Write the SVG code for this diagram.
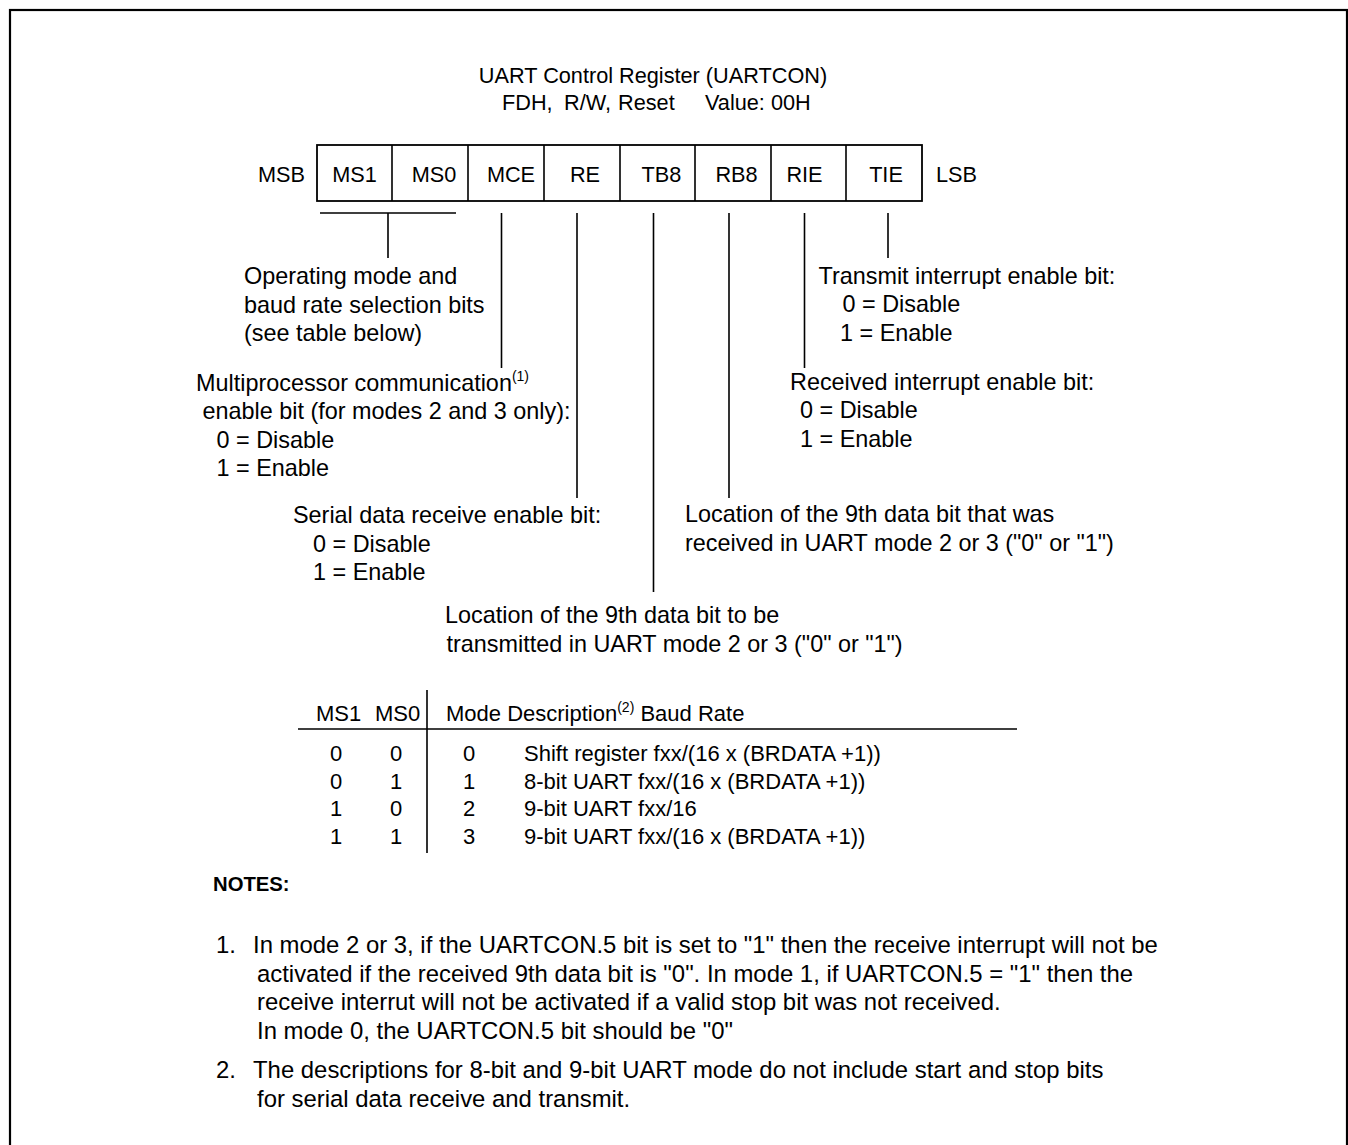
<svg xmlns="http://www.w3.org/2000/svg" width="1348" height="1145" viewBox="0 0 1348 1145">
<style>
text{font-family:"Liberation Sans",Arial,sans-serif;fill:#000}
.t{font-size:21.7px}
.tb{font-size:22px}
.d{font-size:23.4px}
.n{font-size:23.9px}
.s{font-size:14px}
.b{font-weight:bold;font-size:20.3px}
.ln{stroke:#000;stroke-width:1.6;fill:none}
</style>
<rect x="10" y="10" width="1337" height="1160" fill="#fff" stroke="#000" stroke-width="2.2"/>
<g id="title">
<text class="t" x="653" y="83" text-anchor="middle">UART Control Register (UARTCON)</text>
<text class="t" x="502" y="110">FDH,</text>
<text class="t" x="564" y="110">R/W,</text>
<text class="t" x="618" y="110">Reset</text>
<text class="t" x="705" y="110">Value: 00H</text>
</g>
<g id="register">
<rect x="317" y="145" width="605" height="56" fill="none" stroke="#000" stroke-width="1.8"/>
<path class="ln" d="M392 145V201M468 145V201M544 145V201M620 145V201M695 145V201M771 145V201M846 145V201"/>
<text class="t" x="258" y="182">MSB</text>
<text class="t" x="354.5" y="182" text-anchor="middle">MS1</text>
<text class="t" x="434" y="182" text-anchor="middle">MS0</text>
<text class="t" x="511" y="182" text-anchor="middle">MCE</text>
<text class="t" x="585" y="182" text-anchor="middle">RE</text>
<text class="t" x="661.5" y="182" text-anchor="middle">TB8</text>
<text class="t" x="736.5" y="182" text-anchor="middle">RB8</text>
<text class="t" x="804.5" y="182" text-anchor="middle">RIE</text>
<text class="t" x="886" y="182" text-anchor="middle">TIE</text>
<text class="t" x="936" y="182">LSB</text>
</g>
<g id="connectors">
<path class="ln" d="M320 213H456M388 213V258"/>
<path class="ln" d="M501.5 213V368"/>
<path class="ln" d="M577 213V498"/>
<path class="ln" d="M653.5 213V592"/>
<path class="ln" d="M729 213V498"/>
<path class="ln" d="M804.5 213V368"/>
<path class="ln" d="M888 213V258"/>
</g>
<g id="ms-desc">
<text class="d" x="244" y="284">Operating mode and</text>
<text class="d" x="244" y="312.5">baud rate selection bits</text>
<text class="d" x="244" y="341">(see table below)</text>
</g>
<g id="mce-desc">
<text class="d" x="196" y="390.5">Multiprocessor communication<tspan class="s" dy="-10">(1)</tspan></text>
<text class="d" x="202.5" y="419">enable bit (for modes 2 and 3 only):</text>
<text class="d" x="216.5" y="447.5">0 = Disable</text>
<text class="d" x="216.5" y="476">1 = Enable</text>
</g>
<g id="re-desc">
<text class="d" x="293" y="523">Serial data receive enable bit:</text>
<text class="d" x="313" y="551.5">0 = Disable</text>
<text class="d" x="313" y="580">1 = Enable</text>
</g>
<g id="tb8-desc">
<text class="d" x="445" y="623">Location of the 9th data bit to be</text>
<text class="d" x="446.5" y="651.5">transmitted in UART mode 2 or 3 ("0" or "1")</text>
</g>
<g id="rb8-desc">
<text class="d" x="685" y="522">Location of the 9th data bit that was</text>
<text class="d" x="685" y="550.5">received in UART mode 2 or 3 ("0" or "1")</text>
</g>
<g id="rie-desc">
<text class="d" x="790" y="389.5">Received interrupt enable bit:</text>
<text class="d" x="800" y="418">0 = Disable</text>
<text class="d" x="800" y="446.5">1 = Enable</text>
</g>
<g id="tie-desc">
<text class="d" x="818.5" y="283.5">Transmit interrupt enable bit:</text>
<text class="d" x="842.5" y="312">0 = Disable</text>
<text class="d" x="840" y="340.5">1 = Enable</text>
</g>
<g id="mode-table">
<path class="ln" d="M427 690V853M298 729H1017"/>
<text class="tb" x="316" y="721">MS1</text>
<text class="tb" x="375" y="721">MS0</text>
<text class="tb" x="446" y="721">Mode Description<tspan class="s" dy="-9">(2)</tspan><tspan dy="9"> Baud Rate</tspan></text>
<text class="tb" x="336" y="761" text-anchor="middle">0</text>
<text class="tb" x="396" y="761" text-anchor="middle">0</text>
<text class="tb" x="469" y="761" text-anchor="middle">0</text>
<text class="tb" x="524" y="761">Shift register fxx/(16 x (BRDATA +1))</text>
<text class="tb" x="336" y="788.5" text-anchor="middle">0</text>
<text class="tb" x="396" y="788.5" text-anchor="middle">1</text>
<text class="tb" x="469" y="788.5" text-anchor="middle">1</text>
<text class="tb" x="524" y="788.5">8-bit UART fxx/(16 x (BRDATA +1))</text>
<text class="tb" x="336" y="816" text-anchor="middle">1</text>
<text class="tb" x="396" y="816" text-anchor="middle">0</text>
<text class="tb" x="469" y="816" text-anchor="middle">2</text>
<text class="tb" x="524" y="816">9-bit UART fxx/16</text>
<text class="tb" x="336" y="843.5" text-anchor="middle">1</text>
<text class="tb" x="396" y="843.5" text-anchor="middle">1</text>
<text class="tb" x="469" y="843.5" text-anchor="middle">3</text>
<text class="tb" x="524" y="843.5">9-bit UART fxx/(16 x (BRDATA +1))</text>
</g>
<g id="notes">
<text class="b" x="213" y="891">NOTES:</text>
<text class="n" x="216" y="953">1.</text>
<text class="n" x="253" y="953">In mode 2 or 3, if the UARTCON.5 bit is set to "1" then the receive interrupt will not be</text>
<text class="n" x="257" y="981.5">activated if the received 9th data bit is "0". In mode 1, if UARTCON.5 = "1" then the</text>
<text class="n" x="257" y="1010">receive interrut will not be activated if a valid stop bit was not received.</text>
<text class="n" x="257" y="1038.5">In mode 0, the UARTCON.5 bit should be "0"</text>
<text class="n" x="216" y="1078">2.</text>
<text class="n" x="253" y="1078">The descriptions for 8-bit and 9-bit UART mode do not include start and stop bits</text>
<text class="n" x="257" y="1106.5">for serial data receive and transmit.</text>
</g>
</svg>
